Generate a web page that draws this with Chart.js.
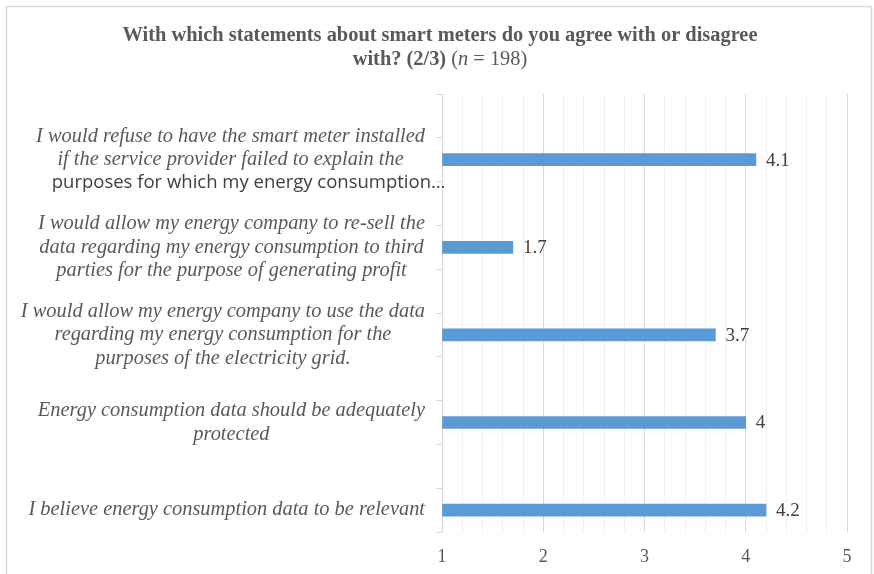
<!DOCTYPE html>
<html>
<head>
<meta charset="utf-8">
<script src="https://cdn.jsdelivr.net/npm/chart.js@4"></script>
<style>
  html, body { margin: 0; padding: 0; background: #fff; }
  #wrap { width: 874px; height: 574px; }
</style>
</head>
<body>
<div id="wrap"><canvas id="meterChart" width="874" height="574"></canvas></div>
<script>
// Statements, top to bottom, each split into its printed lines
const statements = [
    ['I would refuse to have the smart meter installed', 'if the service provider failed to explain the', 'purposes for which my energy consumption\u2026'],
    ['I would allow my energy company to re-sell the', 'data regarding my energy consumption to third', 'parties for the purpose of generating profit'],
    ['I would allow my energy company to use the data', 'regarding my energy consumption for the', 'purposes of the electricity grid.'],
    ['Energy consumption data should be adequately', 'protected'],
    ['I believe energy consumption data to be relevant']
];
const meanScores = [4.1, 1.7, 3.7, 4, 4.2];
const scaleTicks = [1, 2, 3, 4, 5];

const SERIF = '"Liberation Serif", "Times New Roman", serif';
const GREY = '#595959';

// each statement sits in the lower of two rows, the upper row is left empty
const rowLabels = [];
const rowValues = [];
statements.forEach((s, i) => {
    rowLabels.push('');
    rowValues.push(null);
    rowLabels.push(s.join(' '));
    rowValues.push(meanScores[i]);
});

// Frame around the whole chart
const framePlugin = {
    id: 'frame',
    beforeDraw(chart) {
        const ctx = chart.ctx;
        ctx.save();
        ctx.fillStyle = '#fff';
        ctx.fillRect(0, 0, chart.width, chart.height);
        ctx.strokeStyle = '#d9d9d9';
        ctx.lineWidth = 1.5;
        ctx.strokeRect(6.5, 6.5, 865, 620);
        ctx.restore();
    }
};

// Title with mixed bold / regular / italic runs
const titlePlugin = {
    id: 'mixedTitle',
    afterDraw(chart) {
        const ctx = chart.ctx;
        const cx = 440;
        const lines = [
            [{ t: 'With which statements about smart meters do you agree with or disagree', f: 'bold 20.4px ' + SERIF }],
            [
                { t: 'with? (2/3)', f: 'bold 20.4px ' + SERIF },
                { t: ' (', f: '20.4px ' + SERIF },
                { t: 'n', f: 'italic 20.4px ' + SERIF },
                { t: ' = 198)', f: '20.4px ' + SERIF }
            ]
        ];
        const ys = [36, 60];
        ctx.save();
        ctx.fillStyle = GREY;
        ctx.textBaseline = 'middle';
        ctx.textAlign = 'left';
        lines.forEach((runs, li) => {
            let total = 0;
            runs.forEach(r => { ctx.font = r.f; r.w = ctx.measureText(r.t).width; total += r.w; });
            let x = cx - total / 2;
            runs.forEach(r => {
                ctx.font = r.f;
                ctx.fillText(r.t, x, ys[li]);
                x += r.w;
            });
        });
        ctx.restore();
    }
};

// Category labels: centred block, right edge against the axis
const statementPlugin = {
    id: 'statementLabels',
    afterDraw(chart) {
        const ctx = chart.ctx;
        const yScale = chart.scales.y;
        const right = 425;
        const lineH = 23.5;
        const labelFont = 'italic 20.4px ' + SERIF;
        ctx.save();
        ctx.textBaseline = 'middle';
        ctx.textAlign = 'center';
        statements.forEach((lines, i) => {
            const yc = yScale.getPixelForValue(i * 2 + 1);
            ctx.font = labelFont;
            let maxW = 0;
            lines.forEach(l => { if (!l.endsWith('\u2026')) maxW = Math.max(maxW, ctx.measureText(l).width); });
            const cx = right - maxW / 2;
            const y0 = yc - (lines.length - 1) * lineH / 2;
            lines.forEach((l, j) => {
                if (l.endsWith('\u2026')) {
                    // truncated line falls back to a plain sans face
                    ctx.font = '18.5px "Open Sans", sans-serif';
                    ctx.fillStyle = '#404040';
                    ctx.fillText(l, cx + 18, y0 + j * lineH);
                } else {
                    ctx.font = labelFont;
                    ctx.fillStyle = GREY;
                    ctx.fillText(l, cx, y0 + j * lineH);
                }
            });
        });
        ctx.restore();
    }
};

// Value labels just past the end of each bar
const valuePlugin = {
    id: 'barValues',
    afterDatasetsDraw(chart) {
        const ctx = chart.ctx;
        const meta = chart.getDatasetMeta(0);
        ctx.save();
        ctx.font = '19px ' + SERIF;
        ctx.fillStyle = '#404040';
        ctx.textBaseline = 'middle';
        ctx.textAlign = 'left';
        meta.data.forEach((bar, i) => {
            const v = rowValues[i];
            if (v === null) return;
            ctx.fillText(String(v), bar.x + 10, bar.y + 1);
        });
        ctx.restore();
    }
};

const isWhole = v => Math.abs(v - Math.round(v)) < 1e-6;

new Chart(document.getElementById('meterChart'), {
    type: 'bar',
    data: {
        labels: rowLabels,
        datasets: [{
            data: rowValues,
            base: 1,
            backgroundColor: '#5b9bd5',
            borderWidth: 0,
            barThickness: 12
        }]
    },
    options: {
        indexAxis: 'y',
        responsive: false,
        animation: false,
        layout: { padding: { top: 94, right: 27, left: 0, bottom: 0 } },
        plugins: {
            legend: { display: false },
            tooltip: { enabled: false }
        },
        scales: {
            x: {
                min: scaleTicks[0],
                max: scaleTicks[scaleTicks.length - 1],
                border: { display: false },
                grid: {
                    drawTicks: false,
                    color: ctx => isWhole(ctx.tick.value) ? '#d9d9d9' : '#f0f0f0',
                    lineWidth: 1
                },
                ticks: {
                    stepSize: 0.2,
                    autoSkip: false,
                    padding: 14,
                    color: GREY,
                    font: { family: SERIF, size: 18 },
                    callback: v => (isWhole(v) && scaleTicks.includes(Math.round(v))) ? String(Math.round(v)) : ''
                },
                afterFit(scale) { scale.height = 42; }
            },
            y: {
                border: { display: true, color: '#d9d9d9' },
                grid: {
                    offset: true,
                    drawOnChartArea: false,
                    drawTicks: true,
                    tickLength: 6,
                    color: '#d9d9d9'
                },
                ticks: { display: false },
                afterFit(scale) { scale.width = 442; }
            }
        }
    },
    plugins: [framePlugin, titlePlugin, statementPlugin, valuePlugin]
});
</script>
</body>
</html>
